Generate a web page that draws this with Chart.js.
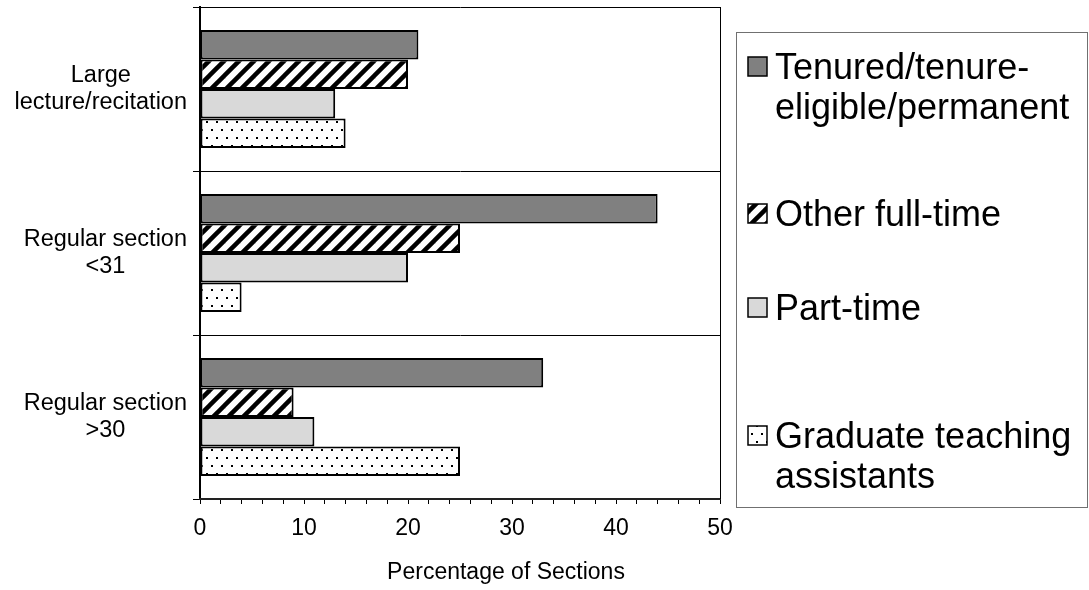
<!DOCTYPE html>
<html>
<head>
<meta charset="utf-8">
<script src="https://cdn.jsdelivr.net/npm/chart.js@4.4.1/dist/chart.umd.min.js"></script>
<style>
  html, body { margin: 0; padding: 0; background: #fff; }
  canvas { display: block; }
</style>
</head>
<body>
<canvas id="sectionsChart" width="1089" height="590"></canvas>
<script>
// Chart data
const categories = [['Large', 'lecture/recitation'], ['Regular section', '<31'], ['Regular section', '>30']];
const seriesNames = ['Tenured/tenure-eligible/permanent', 'Other full-time', 'Part-time', 'Graduate teaching assistants'];
const legendLines = [['Tenured/tenure-', 'eligible/permanent'], ['Other full-time'], ['Part-time'], ['Graduate teaching', 'assistants']];
const tenured = [21, 44, 33];
const otherFullTime = [20, 25, 9];
const partTime = [13, 20, 11];
const gradAssistants = [14, 4, 25];
const axisMin = 0;
const axisMax = 50;
const axisTitle = 'Percentage of Sections';

const fontFamily = '"Liberation Sans", Arial, Helvetica, sans-serif';
Chart.defaults.font.family = fontFamily;
Chart.defaults.color = '#000';

// Fill patterns (like the Excel ones)
function stripePattern() {
    const c = document.createElement('canvas');
    c.width = 15; c.height = 15;
    const g = c.getContext('2d');
    g.fillStyle = '#fff';
    g.fillRect(0, 0, 15, 15);
    g.strokeStyle = '#000';
    g.lineWidth = 4.5;
    [-15, 0, 15].forEach(k => {
        g.beginPath();
        g.moveTo(k - 2, 17);
        g.lineTo(k + 17, -2);
        g.stroke();
    });
    return g.createPattern(c, 'repeat');
}

function dotPattern() {
    const c = document.createElement('canvas');
    c.width = 10; c.height = 16;
    const g = c.getContext('2d');
    g.fillStyle = '#fff';
    g.fillRect(0, 0, 10, 16);
    g.fillStyle = '#000';
    g.fillRect(1, 1, 2, 2);
    g.fillRect(6, 9, 2, 2);
    return g.createPattern(c, 'repeat');
}

const ctx = document.getElementById('sectionsChart').getContext('2d');
const fills = ['#808080', stripePattern(), '#d9d9d9', dotPattern()];
const seriesValues = [tenured, otherFullTime, partTime, gradAssistants];

// Category labels: block right-aligned, lines centred inside block
const categoryLabels = {
    id: 'categoryLabels',
    afterDraw(chart) {
        const yScale = chart.scales.y;
        const c = chart.ctx;
        c.save();
        c.font = '23.5px ' + fontFamily;
        c.fillStyle = '#000';
        c.textAlign = 'center';
        c.textBaseline = 'middle';
        const lineHeight = 26.5;
        const rightEdge = yScale.right - 13;
        chart.data.labels.forEach((lines, i) => {
            const yc = yScale.getPixelForTick(i);
            const widest = Math.max(...lines.map(l => c.measureText(l).width));
            const xc = rightEdge - widest / 2;
            lines.forEach((line, j) => {
                c.fillText(line, xc, yc + (j - (lines.length - 1) / 2) * lineHeight);
            });
        });
        c.restore();
    }
};

// Right border of the plot area + axis title (sits a bit right of centre)
const plotExtras = {
    id: 'plotExtras',
    afterDraw(chart) {
        const a = chart.chartArea;
        const c = chart.ctx;
        c.save();
        c.strokeStyle = '#000';
        c.lineWidth = 1;
        c.beginPath();
        c.moveTo(a.right + 0.5, a.top);
        c.lineTo(a.right + 0.5, a.bottom);
        c.stroke();
        c.font = '23px ' + fontFamily;
        c.fillStyle = '#000';
        c.textAlign = 'center';
        c.textBaseline = 'middle';
        c.fillText(axisTitle, (a.left + a.right) / 2 + 46, 573);
        c.restore();
    }
};

// Boxed legend on the right
const boxLegend = {
    id: 'boxLegend',
    afterDraw(chart) {
        const c = chart.ctx;
        const box = { left: 736.5, top: 32.5, right: 1087.5, bottom: 507.5 };
        const baselines = [79, 226, 320, 448];
        const lineHeight = 40;
        c.save();
        c.strokeStyle = '#707070';
        c.lineWidth = 1;
        c.strokeRect(box.left, box.top, box.right - box.left, box.bottom - box.top);
        c.font = '36px ' + fontFamily;
        c.textAlign = 'left';
        c.textBaseline = 'alphabetic';
        chart.data.datasets.forEach((ds, i) => {
            const base = baselines[i];
            c.fillStyle = ds.backgroundColor;
            c.fillRect(748, base - 22, 19, 19);
            c.strokeStyle = '#000';
            c.lineWidth = 1.5;
            c.strokeRect(748, base - 22, 19, 19);
            c.fillStyle = '#000';
            legendLines[i].forEach((line, j) => {
                c.fillText(line, 775, base + j * lineHeight);
            });
        });
        c.restore();
    }
};

new Chart(ctx, {
    type: 'bar',
    data: {
        labels: categories,
        datasets: seriesNames.map((name, i) => ({
            label: name,
            data: seriesValues[i],
            backgroundColor: fills[i],
            borderColor: '#000',
            borderWidth: 2,
            borderSkipped: false,
            barPercentage: 1.0,
            categoryPercentage: 0.72
        }))
    },
    options: {
        indexAxis: 'y',
        responsive: false,
        animation: false,
        layout: {
            padding: { left: 0, right: 369, top: 7, bottom: 0 }
        },
        plugins: {
            legend: { display: false },
            tooltip: { enabled: false }
        },
        scales: {
            y: {
                type: 'category',
                afterFit(scale) { scale.width = 200; },
                grid: {
                    offset: true,
                    color: '#000',
                    lineWidth: 1,
                    tickLength: 7,
                    drawTicks: true
                },
                border: { color: '#000', width: 2 },
                ticks: { display: false }
            },
            x: {
                min: axisMin,
                max: axisMax,
                afterFit(scale) { scale.height = 91; },
                grid: {
                    drawOnChartArea: false,
                    color: '#000',
                    tickLength: 5
                },
                border: { color: '#222', width: 2 },
                ticks: {
                    stepSize: 2,
                    autoSkip: false,
                    maxRotation: 0,
                    padding: 11,
                    font: { size: 23 },
                    color: '#000',
                    callback: v => (v % 10 === 0 ? v : '')
                }
            }
        }
    },
    plugins: [categoryLabels, plotExtras, boxLegend]
});
</script>
</body>
</html>
